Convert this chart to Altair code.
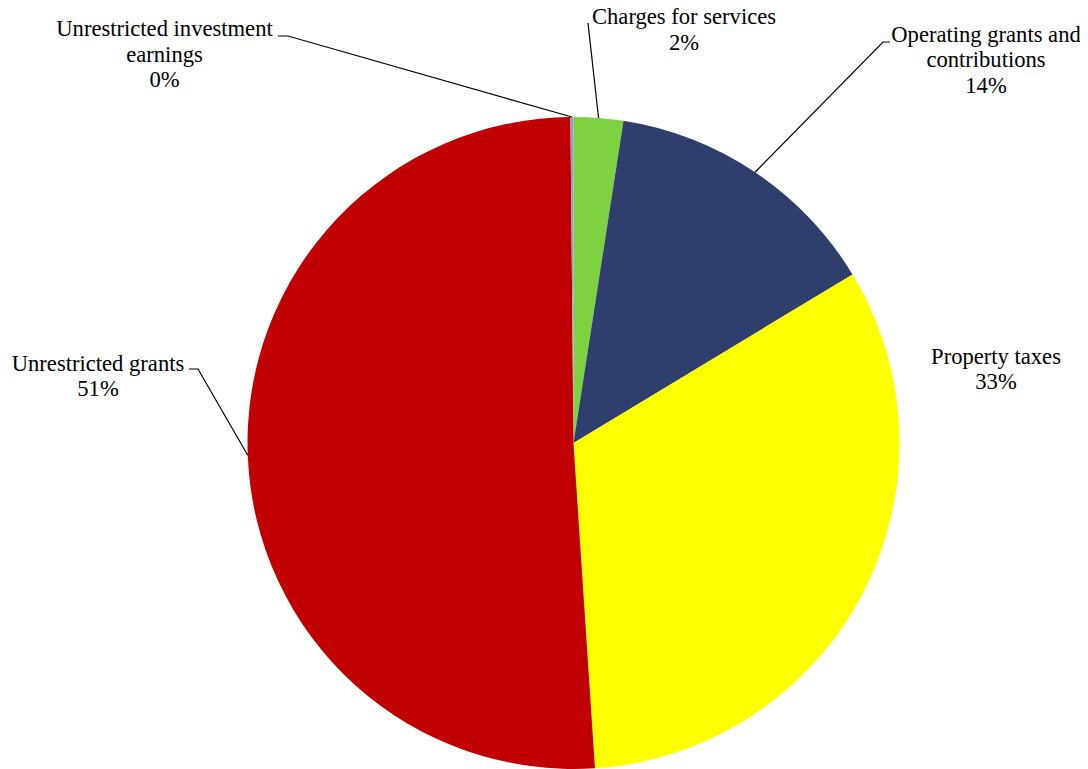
import math
import altair as alt
import pandas as pd

# ---- data ----
categories = [
    "Charges for services",
    "Operating grants and contributions",
    "Property taxes",
    "Unrestricted grants",
    "Unrestricted investment earnings",
]
values = [2.45, 13.9, 32.6, 50.9, 0.15]
label_lines = [
    ["Charges for services"],
    ["Operating grants and", "contributions"],
    ["Property taxes"],
    ["Unrestricted grants"],
    ["Unrestricted investment", "earnings"],
]

# ---- styling / layout ----
colors = ["#7ED13F", "#2E3F6E", "#FFFF00", "#C00000", "#8EA2C7"]
W, H = 1072, 761
CX, CY, R = 565.5, 435, 326
FONT = "'Times New Roman', 'Liberation Serif', serif"
FS = 22.6
LH = 25.5
# label anchor (center x, first baseline y) in chart pixels
label_pos = [(676, 16), (978, 33.5), (988, 355.5), (90, 362.5), (156.5, 28)]
# leader line label-side points (None = no leader)
leader_pts = [
    [(580, 15)],
    [(882, 34), (875, 34)],
    None,
    [(181, 361), (190, 361)],
    [(270, 28), (280, 28)],
]

total = sum(values)
pct = [f"{round(v / total * 100):.0f}%" for v in values]

pie_df = pd.DataFrame({
    "category": categories,
    "value": values,
    "order": list(range(len(categories))),
})

pie = alt.Chart(pie_df).mark_arc(radius=R, stroke=None).encode(
    theta=alt.Theta("value:Q", stack=True),
    order=alt.Order("order:Q"),
    color=alt.Color("category:N", scale=alt.Scale(domain=categories, range=colors), legend=None),
    x=alt.value(CX),
    y=alt.value(CY),
)

# labels
lab_rows = []
for i, c in enumerate(categories):
    lx, ly = label_pos[i]
    lab_rows.append({"category": c, "text": "\n".join(label_lines[i] + [pct[i]]), "lx": lx, "ly": ly})
lab_df = pd.DataFrame(lab_rows)
labels = alt.Chart(lab_df).mark_text(
    font=FONT, fontSize=FS, align="center", baseline="alphabetic", lineBreak="\n",
    lineHeight=LH, color="#000000",
).encode(
    x=alt.X("lx:Q", scale=None),
    y=alt.Y("ly:Q", scale=None),
    text="text:N",
)

# leader lines: from label side to slice mid-point on pie edge
line_rows = []
cum = 0.0
for i, c in enumerate(categories):
    mid = (cum + values[i] / 2) / total * 2 * math.pi
    cum += values[i]
    if leader_pts[i] is None:
        continue
    pts = list(leader_pts[i]) + [(CX + R * math.sin(mid), CY - R * math.cos(mid))]
    for k, (px, py) in enumerate(pts):
        line_rows.append({"category": c, "k": k, "px": px, "py": py})
line_df = pd.DataFrame(line_rows)
leaders = alt.Chart(line_df).mark_line(color="#000000", strokeWidth=1.2).encode(
    x=alt.X("px:Q", scale=None),
    y=alt.Y("py:Q", scale=None),
    detail="category:N",
    order="k:Q",
)

chart = alt.layer(pie, leaders, labels).properties(
    width=W, height=H, padding=0, autosize=alt.AutoSizeParams(type="none"),
    background="#FFFFFF",
).configure_view(stroke=None)

chart.save("out.html", embed_options={"renderer": "svg", "actions": False})
